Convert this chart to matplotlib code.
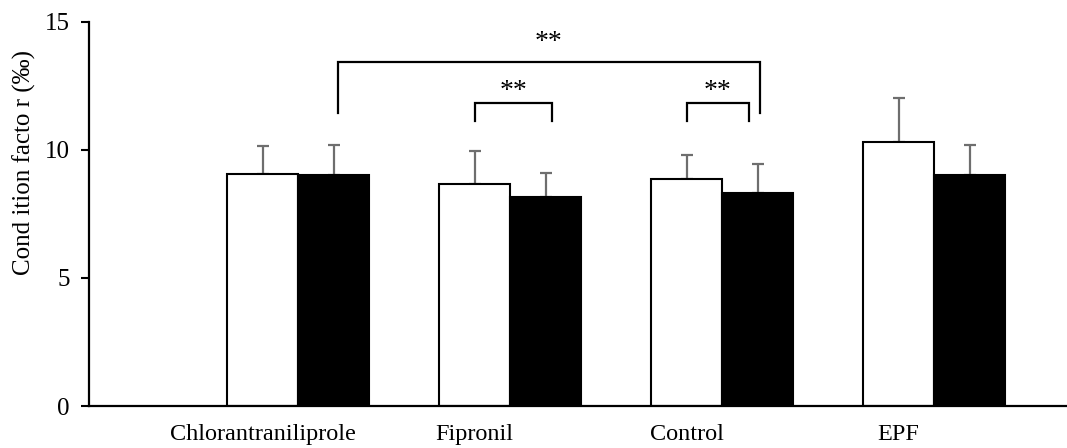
import matplotlib
matplotlib.use("Agg")
import matplotlib.pyplot as plt
import numpy as np

plt.rcParams['font.family'] = ['Liberation Serif', 'DejaVu Serif']

categories = ["Chlorantraniliprole", "Fipronil", "Control", "EPF"]
open_means = [9.05, 8.68, 8.85, 10.30]
open_sd = [1.10, 1.27, 0.95, 1.72]
filled_means = [9.02, 8.15, 8.32, 9.02]
filled_sd = [1.18, 0.95, 1.12, 1.17]
y_ticks = [0, 5, 10, 15]

fig = plt.figure(figsize=(10.67, 4.48), dpi=100)
ax = fig.add_axes([89 / 1067, 42 / 448, 1 - 89 / 1067, 384 / 448])

x = np.arange(len(categories))
w = 0.335
err_kw = dict(ecolor="#6e6e6e", elinewidth=1.6, capsize=4.3, capthick=1.6)

ax.bar(x - w / 2, open_means, w, color="white", edgecolor="black", linewidth=1.5,
       zorder=2)
ax.bar(x + w / 2, filled_means, w, color="black", edgecolor="black", linewidth=1.5,
       zorder=2)
ax.errorbar(x - w / 2, open_means, yerr=[np.zeros(4), open_sd], fmt="none",
            zorder=1, **err_kw)
ax.errorbar(x + w / 2, filled_means, yerr=[np.zeros(4), filled_sd], fmt="none",
            zorder=1, **err_kw)


def bracket(x0, x1, y_low, y_top, text_y):
    ax.plot([x0, x0, x1, x1], [y_low, y_top, y_top, y_low], color="black",
            lw=1.6, solid_joinstyle="miter", clip_on=False)
    ax.text((x0 + x1) / 2, text_y, "**", ha="center", va="center", fontsize=20)


bracket(0 + w / 2 + 0.02, 2 + w / 2 + 0.01, 11.45, 13.45, 14.2)
bracket(1 - w / 2, 1 + w / 2 + 0.03, 11.15, 11.85, 12.3)
bracket(2 - w / 2, 2 + w / 2 - 0.04, 11.15, 11.85, 12.3)

ax.set_xlim(-0.986, 3.627)
ax.set_ylim(0, 15)
ax.set_yticks(y_ticks)
ax.set_xticks(x - w / 2)
ax.set_xticklabels(categories)
ax.tick_params(axis="x", length=0, pad=13, labelsize=17.5)
ax.tick_params(axis="y", direction="out", length=6, width=1.5, pad=8,
               labelsize=18)

for side in ("top", "right"):
    ax.spines[side].set_visible(False)
for side in ("left", "bottom"):
    ax.spines[side].set_linewidth(1.6)

ax.set_ylabel("Cond ition facto r (‰)", fontsize=18)
ax.yaxis.set_label_coords(-0.054, 0.635)

fig.savefig("out.png", dpi=100)
